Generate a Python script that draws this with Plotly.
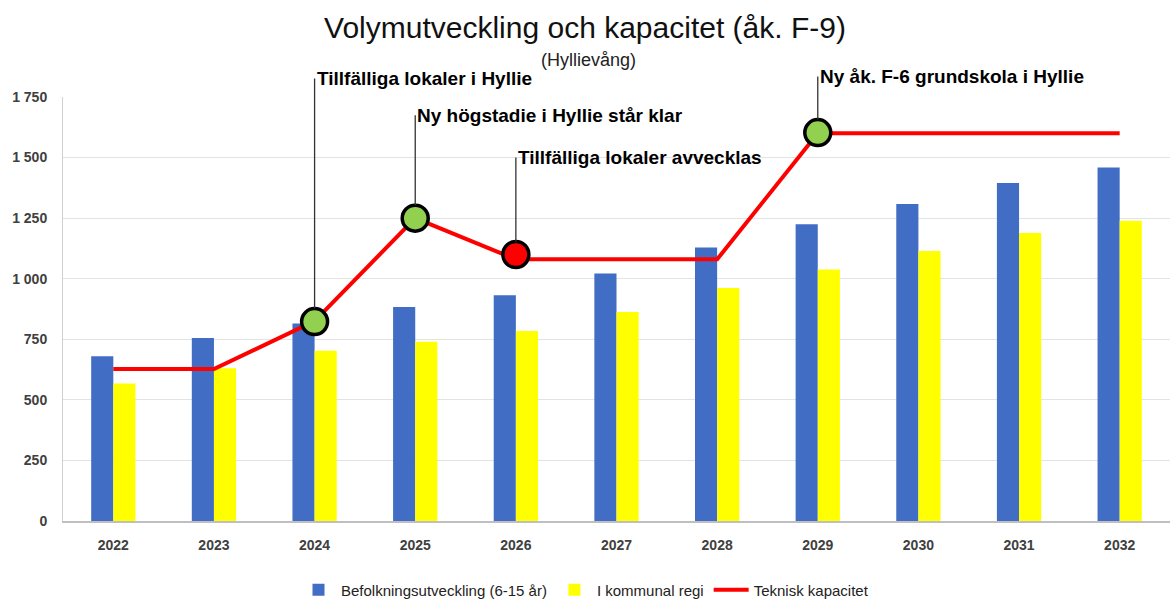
import plotly.graph_objects as go

years = ["2022", "2023", "2024", "2025", "2026", "2027", "2028", "2029", "2030", "2031", "2032"]
befolkning = [680, 755, 815, 883, 932, 1022, 1129, 1225, 1308, 1395, 1459]
kommunal = [568, 630, 703, 740, 784, 863, 962, 1038, 1114, 1189, 1239]
kapacitet = [627, 627, 825, 1250, 1080, 1080, 1080, 1600, 1600, 1600, 1600]

milestone_years = ["2024", "2025", "2026", "2029"]
milestone_values = [823, 1250, 1100, 1603]
milestone_texts = [
    "Tillfälliga lokaler i Hyllie",
    "Ny högstadie i Hyllie står klar",
    "Tillfälliga lokaler avvecklas",
    "Ny åk. F-6 grundskola i Hyllie",
]
milestone_colors = ["#92D050", "#92D050", "#FF0000", "#92D050"]
label_offsets = [-243, -103, -97, -56]

FONT = "Liberation Sans"

fig = go.Figure()
fig.add_trace(go.Bar(x=years, y=befolkning, name="Befolkningsutveckling (6-15 år)",
                     marker=dict(color="#416DC5", line=dict(width=0))))
fig.add_trace(go.Bar(x=years, y=kommunal, name="I kommunal regi",
                     marker=dict(color="#FFFF00", line=dict(width=0))))
fig.add_trace(go.Scatter(x=years, y=kapacitet, name="Teknisk kapacitet", mode="lines",
                         line=dict(color="#FF0000", width=4)))
fig.add_trace(go.Scatter(x=milestone_years, y=milestone_values, mode="markers", showlegend=False,
                         marker=dict(size=26, color=milestone_colors, line=dict(color="black", width=3.5))))

annotations = []
for yr, val, txt, off in zip(milestone_years, milestone_values, milestone_texts, label_offsets):
    annotations.append(dict(x=years.index(yr), y=val, xref="x", yref="y", text="<b>" + txt + "</b>",
                            showarrow=True, arrowhead=0, arrowwidth=1.3, arrowcolor="#333333",
                            ax=0, ay=off, standoff=13, xanchor="left", yanchor="middle",
                            font=dict(family=FONT, size=19, color="black")))
annotations.append(dict(x=0.475, y=1.087, xref="paper", yref="paper", text="(Hyllievång)",
                        xanchor="center", yanchor="middle",
                        showarrow=False, font=dict(family=FONT, size=18, color="#222222")))

tickfont = dict(family=FONT, size=14, color="#404040", weight="bold")

fig.update_layout(
    width=1170, height=599,
    margin=dict(l=63, r=0, t=97, b=78),
    paper_bgcolor="white", plot_bgcolor="white",
    separators=", ",
    barmode="group", bargap=0.56, bargroupgap=0,
    title=dict(text="Volymutveckling och kapacitet (åk. F-9)", x=0.5, xanchor="center",
               y=1 - 27 / 599, yanchor="middle", yref="container",
               font=dict(family=FONT, size=30, color="#111111")),
    legend=dict(orientation="h", x=0.5, xanchor="center", xref="container",
                y=1 - 590 / 599, yanchor="middle", yref="container",
                font=dict(family=FONT, size=15, color="#222222"), itemwidth=35,
                traceorder="normal"),
    annotations=annotations,
    xaxis=dict(type="category", range=[-0.5, 10.5], showgrid=False, showline=True, automargin=False,
               linecolor="#BFBFBF", linewidth=2,
               ticks="", tickfont=tickfont, ticklabelstandoff=10),
    yaxis=dict(range=[0, 1750], tickvals=[0, 250, 500, 750, 1000, 1250, 1500, 1750], tickformat=",d",
               automargin=False,
               showgrid=True, gridcolor="#E3E3E3", gridwidth=1, zeroline=False,
               showline=True, linecolor="#D0D0D0", linewidth=1,
               ticks="", tickfont=tickfont, ticklabelstandoff=12),
)

fig.write_html("out.html", config={"displayModeBar": False},
               post_script="document.body.style.margin='0';document.body.style.overflow='hidden';")
